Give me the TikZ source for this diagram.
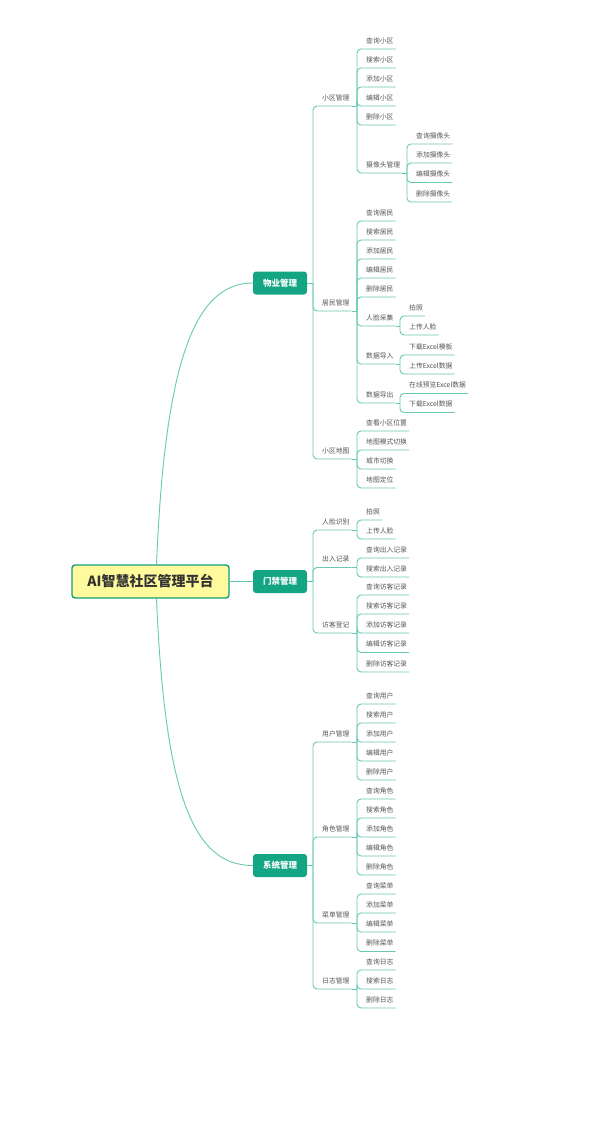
\documentclass[tikz,border=0pt]{standalone}
\usepackage{fontspec}
\setmainfont{Noto Sans CJK SC}
\usetikzlibrary{calc}
\definecolor{tealbox}{HTML}{13A584}
\definecolor{lnc}{HTML}{66C9B3}
\definecolor{txt}{HTML}{555555}
\definecolor{rootfill}{HTML}{FFFA9C}
\definecolor{rootline}{HTML}{139E7C}
\tikzset{
  conn/.style={draw=lnc, line width=0.9pt, rounded corners=4pt},
  leaf/.style={anchor=south west, inner xsep=2pt, inner ysep=5.4pt, text depth=0pt,
    font=\fontsize{6.8}{7}\selectfont, text=txt, execute at begin node={\hspace*{7pt}}},
  lvone/.style={rounded corners=3pt, fill=tealbox, text=white, font=\fontsize{8.5}{9}\selectfont\bfseries,
    minimum width=54pt, minimum height=23pt, inner sep=0pt},
  rootbox/.style={rounded corners=3pt, fill=rootfill, draw=rootline, line width=1.4pt, text=black!80,
    font=\fontsize{14}{15}\selectfont\bfseries, minimum width=157pt, minimum height=33pt, inner sep=0pt}
}
\newcommand\leafnode[5]{\node[leaf] (#1) at (#4,#5) {#2}; \draw[conn] (#3) |- (#1.south east);}
\newcommand\mkjunc[3]{\coordinate (j#1) at (#2,#3); \draw[conn] (#1.south east) -- (j#1);}
\begin{document}
\begin{tikzpicture}[x=1pt,y=-1pt]
\useasboundingbox (0,0) rectangle (614,1124);
\fill[white] (0,0) rectangle (614,1124);
% root and level 1
\node[rootbox] (root) at (150.5,581.5) {AI智慧社区管理平台};
\node[lvone] (wy) at (280,283) {物业管理};
\node[lvone] (mj) at (280,581.5) {门禁管理};
\node[lvone] (xt) at (280,865.5) {系统管理};
\draw[conn] ($(root.north)+(6,0)$) .. controls (165,360) and (195,283) .. (wy.west);
\draw[conn] (root.east) -- (mj.west);
\draw[conn] ($(root.south)+(6,0)$) .. controls (165,800) and (195,865.5) .. (xt.west);
\coordinate (jwy) at (313,283);
\coordinate (jmj) at (313,581.5);
\coordinate (jxt) at (313,865.5);
\draw[conn] (wy.east) -- (jwy);
\draw[conn] (mj.east) -- (jmj);
\draw[conn] (xt.east) -- (jxt);
% ---------- 物业管理
\leafnode{xq}{小区管理}{jwy}{313}{106}
\mkjunc{xq}{357}{106}
\leafnode{xqa}{查询小区}{jxq}{357}{49}
\leafnode{xqb}{搜索小区}{jxq}{357}{68}
\leafnode{xqc}{添加小区}{jxq}{357}{87}
\leafnode{xqd}{编辑小区}{jxq}{357}{106}
\leafnode{xqe}{删除小区}{jxq}{357}{125}
\leafnode{sx}{摄像头管理}{jxq}{357}{173}
\mkjunc{sx}{407}{173}
\leafnode{sxa}{查询摄像头}{jsx}{407}{144}
\leafnode{sxb}{添加摄像头}{jsx}{407}{163}
\leafnode{sxc}{编辑摄像头}{jsx}{407}{182.5}
\leafnode{sxd}{删除摄像头}{jsx}{407}{202}
\leafnode{jm}{居民管理}{jwy}{313}{311}
\mkjunc{jm}{357}{311}
\leafnode{jma}{查询居民}{jjm}{357}{221}
\leafnode{jmb}{搜索居民}{jjm}{357}{240}
\leafnode{jmc}{添加居民}{jjm}{357}{259}
\leafnode{jmd}{编辑居民}{jjm}{357}{278}
\leafnode{jme}{删除居民}{jjm}{357}{297}
\leafnode{rl}{人脸采集}{jjm}{357}{326}
\mkjunc{rl}{400}{326}
\leafnode{rla}{拍照}{jrl}{400}{316}
\leafnode{rlb}{上传人脸}{jrl}{400}{335}
\leafnode{dr}{数据导入}{jjm}{357}{364}
\mkjunc{dr}{400}{364}
\leafnode{dra}{下载Excel模板}{jdr}{400}{355}
\leafnode{drb}{上传Excel数据}{jdr}{400}{374}
\leafnode{dc}{数据导出}{jjm}{357}{403}
\mkjunc{dc}{400}{403}
\leafnode{dca}{在线预览Excel数据}{jdc}{400}{393.5}
\leafnode{dcb}{下载Excel数据}{jdc}{400}{412.5}
\leafnode{dt}{小区地图}{jwy}{313}{459}
\mkjunc{dt}{357}{459}
\leafnode{dta}{查看小区位置}{jdt}{357}{431}
\leafnode{dtb}{地图模式切换}{jdt}{357}{450}
\leafnode{dtc}{城市切换}{jdt}{357}{469}
\leafnode{dtd}{地图定位}{jdt}{357}{488}
% ---------- 门禁管理
\leafnode{sb}{人脸识别}{jmj}{313}{530}
\mkjunc{sb}{357}{530}
\leafnode{sba}{拍照}{jsb}{357}{520}
\leafnode{sbb}{上传人脸}{jsb}{357}{539}
\leafnode{cr}{出入记录}{jmj}{313}{567.5}
\mkjunc{cr}{357}{567.5}
\leafnode{cra}{查询出入记录}{jcr}{357}{558}
\leafnode{crb}{搜索出入记录}{jcr}{357}{577}
\leafnode{fk}{访客登记}{jmj}{313}{633}
\mkjunc{fk}{357}{633}
\leafnode{fka}{查询访客记录}{jfk}{357}{595}
\leafnode{fkb}{搜索访客记录}{jfk}{357}{614}
\leafnode{fkc}{添加访客记录}{jfk}{357}{633}
\leafnode{fkd}{编辑访客记录}{jfk}{357}{652.5}
\leafnode{fke}{删除访客记录}{jfk}{357}{672}
% ---------- 系统管理
\leafnode{yh}{用户管理}{jxt}{313}{742}
\mkjunc{yh}{357}{742}
\leafnode{yha}{查询用户}{jyh}{357}{704}
\leafnode{yhb}{搜索用户}{jyh}{357}{723}
\leafnode{yhc}{添加用户}{jyh}{357}{742}
\leafnode{yhd}{编辑用户}{jyh}{357}{761}
\leafnode{yhe}{删除用户}{jyh}{357}{780}
\leafnode{js}{角色管理}{jxt}{313}{837}
\mkjunc{js}{357}{837}
\leafnode{jsa}{查询角色}{jjs}{357}{799}
\leafnode{jsb}{搜索角色}{jjs}{357}{818}
\leafnode{jsc}{添加角色}{jjs}{357}{837}
\leafnode{jsd}{编辑角色}{jjs}{357}{856}
\leafnode{jse}{删除角色}{jjs}{357}{875}
\leafnode{cd}{菜单管理}{jxt}{313}{923}
\mkjunc{cd}{357}{923}
\leafnode{cda}{查询菜单}{jcd}{357}{894}
\leafnode{cdb}{添加菜单}{jcd}{357}{913}
\leafnode{cdc}{编辑菜单}{jcd}{357}{932}
\leafnode{cdd}{删除菜单}{jcd}{357}{951.5}
\leafnode{rz}{日志管理}{jxt}{313}{989}
\mkjunc{rz}{357}{989}
\leafnode{rza}{查询日志}{jrz}{357}{970}
\leafnode{rzb}{搜索日志}{jrz}{357}{989}
\leafnode{rzc}{删除日志}{jrz}{357}{1008}
\end{tikzpicture}
\end{document}
